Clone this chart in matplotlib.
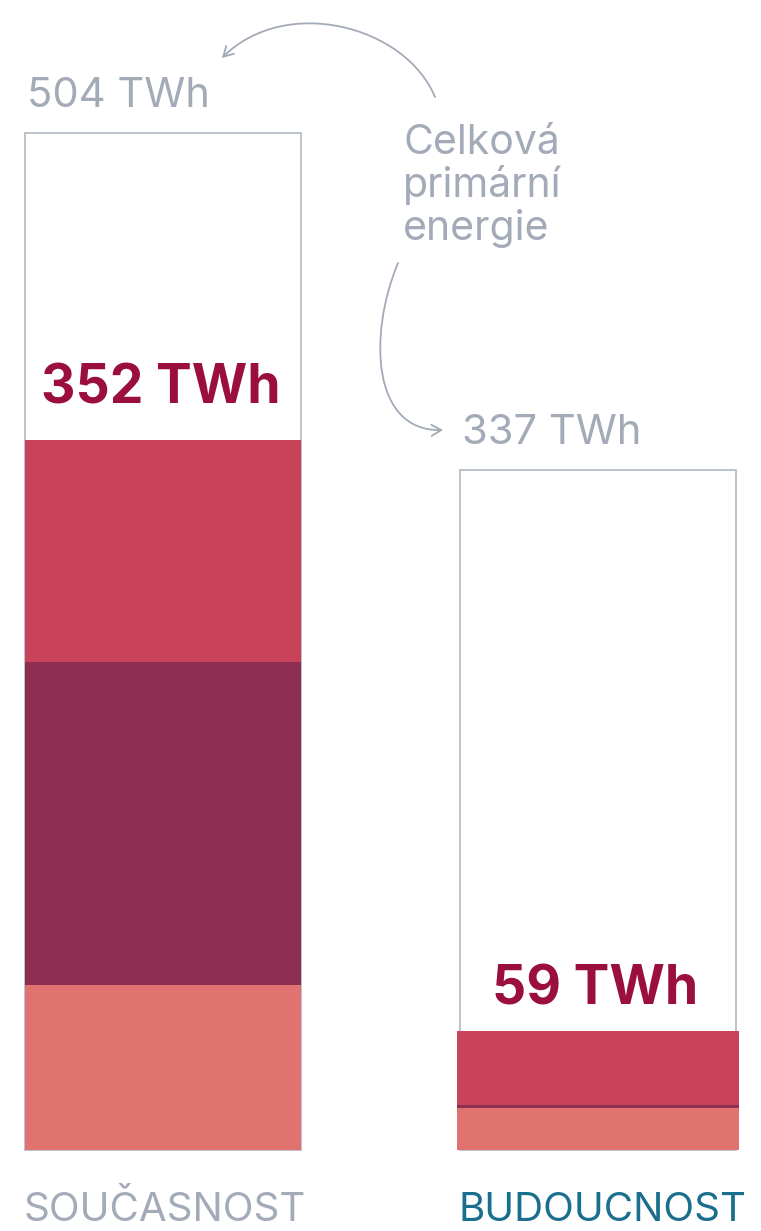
import matplotlib
matplotlib.use("Agg")
import matplotlib.pyplot as plt
from matplotlib.path import Path
from matplotlib.patches import FancyArrowPatch
import numpy as np

# ---- data ----
categories = ["SOUČASNOST", "BUDOUCNOST"]
total_primary = [504, 337]              # TWh, outline bars
seg_bottom = [82, 21]                   # salmon segment
seg_middle = [160, 1.5]                 # dark purple segment
seg_top = [110, 36.5]                   # red segment
total_labels = ["504 TWh", "337 TWh"]
inner_labels = ["352 TWh", "59 TWh"]
annot_lines = ["Celková", "primární", "energie"]

# ---- style ----
c_salmon = "#E07370"
c_purple = "#8E2F52"
c_red = "#C8435A"
c_gray = "#A3AAB8"
c_outline = "#B8BEC9"
c_maroon = "#9A0F3F"
c_blue = "#1A6E8E"
cat_colors = [c_gray, c_blue]

plt.rcParams['font.family'] = ['Inter', 'DejaVu Sans']

W, H = 761, 1231
fig = plt.figure(figsize=(W / 100, H / 100), dpi=100)
ax = fig.add_axes([0, 0, 1, 1])
k = 1017 / 504
ax.set_ylim(-(H - 1150) / k, 1150 / k)
ax.set_xlim(-0.3747, 1.3747)
ax.axis("off")

x = np.arange(len(categories))
bw = 0.634
# outline bars
ax.bar(x, total_primary, width=bw, facecolor="white", edgecolor=c_outline, linewidth=1.3, zorder=1)
# stacked segments
b1 = np.array(seg_bottom)
b2 = b1 + np.array(seg_middle)
cw = [0.636, 0.648]
ax.bar(x, seg_bottom, width=cw, color=c_salmon, zorder=2)
ax.bar(x, seg_middle, bottom=b1, width=cw, color=c_purple, zorder=2)
ax.bar(x, seg_top, bottom=b2, width=cw, color=c_red, zorder=2)

# total labels above bars
for xi, t, lab in zip(x, total_primary, total_labels):
    ax.text(xi - bw / 2 + 0.004, t + 13, lab, fontsize=30, color=c_gray,
            ha="left", va="baseline")

# inner labels
inner_tops = b2 + np.array(seg_top)
offs = [18, 13]
for xi, t, lab, o in zip(x, inner_tops, inner_labels, offs):
    ax.text(xi - 0.006, t + o, lab, fontsize=38.5, color=c_maroon, ha="center",
            va="baseline", fontweight="bold")

# category labels
for xi, lab, c in zip(x, categories, cat_colors):
    ax.text(xi - bw / 2 - 0.004, -35.2, lab, fontsize=29, color=c, ha="left", va="baseline")

# annotation overlay in pixel coords
ov = fig.add_axes([0, 0, 1, 1])
ov.set_xlim(0, W)
ov.set_ylim(H, 0)
ov.axis("off")
ov.patch.set_alpha(0)
for i, line in enumerate(annot_lines):
    ov.text(403, 154 + 43 * i, line, fontsize=29.5, color=c_gray, ha="left", va="baseline")

p1 = Path([(435, 97), (405, 25), (285, -5), (222, 58)],
          [Path.MOVETO, Path.CURVE4, Path.CURVE4, Path.CURVE4])
p2 = Path([(398, 263), (368, 335), (372, 432), (443, 430)],
          [Path.MOVETO, Path.CURVE4, Path.CURVE4, Path.CURVE4])
for p in (p1, p2):
    ov.add_patch(FancyArrowPatch(path=p, arrowstyle="->,head_length=7,head_width=4",
                                 color=c_gray, lw=1.3, transform=ov.transData))

fig.savefig("out.png", dpi=100)
